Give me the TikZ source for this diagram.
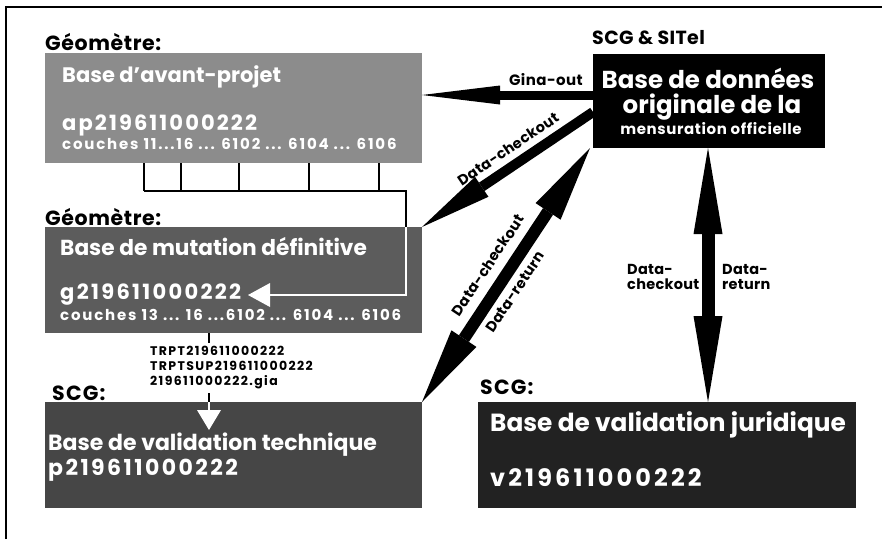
\documentclass[tikz,border=0pt]{standalone}
\usepackage{fontspec}
\setmainfont{Poppins}
\usetikzlibrary{arrows.meta,calc}
\definecolor{gA}{RGB}{140,140,140}
\definecolor{gB}{RGB}{92,92,92}
\definecolor{gC}{RGB}{70,70,70}
\definecolor{gD}{RGB}{34,34,34}
\newcommand{\fs}[1]{\fontsize{#1}{#1}\selectfont\bfseries}
\newcommand{\ls}[1]{\addfontfeature{LetterSpace=#1}}
\begin{document}
\begin{tikzpicture}[x=1pt,y=-1pt,
  box/.style={draw=none, inner sep=0pt, outer sep=0pt, anchor=north west},
  boxtext/.style={anchor=west, inner sep=0pt, text=white},
  title/.style={anchor=west, inner sep=0pt, text=black, font=\fs{20.5}\ls{3}},
  lbl/.style={inner sep=0pt, text=black, font=\fs{14.5}\ls{2}},
  bigarrow/.style={draw=black, line width=#1},
  wire/.style={draw=black, line width=2.4pt},
  whitewire/.style={draw=white, line width=2.4pt}
]
\useasboundingbox (0,0) rectangle (882,539);
\fill[white] (0,0) rectangle (882,539);
% frame
\draw[line width=1.8pt] (6,539) -- (6,7) -- (882,7);

% boxes
\node[box, fill=gA, minimum width=377pt, minimum height=110pt] (b1) at (45,53) {};
\node[box, fill=gB, minimum width=377pt, minimum height=106pt] (b2) at (45,227) {};
\node[box, fill=gC, minimum width=377pt, minimum height=106pt] (b3) at (45,402) {};
\node[box, fill=gD, minimum width=378pt, minimum height=106pt] (b4) at (478,402) {};
\node[box, fill=black, minimum width=232pt, minimum height=94pt] (b5) at (593,54) {};

% titles
\node[title] (l1) at (45,42) {Géomètre:};
\node[title] (l2) at (45,217) {Géomètre:};
\node[title, font=\fs{20.5}\ls{6}] (l3) at (52,393) {SCG:};
\node[title, font=\fs{20.5}\ls{6}] (l4) at (480,387) {SCG:};
\node[title, font=\fs{19}\ls{2}] (l5) at (592,38) {SCG \& SITel};

% box texts
\node[boxtext, font=\fs{21}] (t1a) at (62,77) {Base d'avant-projet};
\node[boxtext, font=\fs{21}\ls{10}] (t1b) at (62,125) {ap219611000222};
\node[boxtext, font=\fs{15}\ls{12}] (t1c) at (62,144) {couches 11...16 ... 6102 ... 6104 ... 6106};
\node[boxtext, font=\fs{21.7}] (t2a) at (60,247) {Base de mutation définitive};
\node[boxtext, font=\fs{21}\ls{11}] (t2b) at (60,295) {g219611000222};
\node[boxtext, font=\fs{15}\ls{12}] (t2c) at (60,315) {couches 13 ... 16 ...6102 ... 6104 ... 6106};
\node[boxtext, font=\fs{22}] (t3a) at (48,445) {Base de validation technique};
\node[boxtext, font=\fs{22}\ls{11}] (t3b) at (48,470) {p219611000222};
\node[boxtext, font=\fs{24.8}] (t4a) at (490,425) {Base de validation juridique};
\node[boxtext, font=\fs{24}\ls{13}] (t4b) at (490,478) {v219611000222};
\node[text=white, inner sep=0pt, font=\fs{24.5}] (t5a) at (708,78) {Base de données};
\node[text=white, inner sep=0pt, font=\fs{24.5}] (t5b) at (712,107) {originale de la};
\node[text=white, inner sep=0pt, font=\fs{15}\ls{4}] (t5c) at (711,129) {mensuration officielle};

% layer wires from box1 to box2
\foreach \xx/\nm in {144/c1,181/c2,239/c3,309/c4,379/c5}{
  \coordinate (\nm top) at (\xx,163);
  \coordinate (\nm bot) at (\xx,191);
  \draw[wire] (\nm top) -- (\nm bot);
}
\coordinate (corner) at (406,191);
\coordinate (entry) at (406,227);
\coordinate (bend) at (406,295);
\coordinate (gtip) at (248,295);
\draw[wire] (c1bot) -- (corner) -- (entry);
\draw[whitewire, -{Triangle[length=22pt,width=24pt,line width=0pt]}] (entry) -- (bend) -- (gtip);

% files list
\coordinate (f1) at (209,333);
\coordinate (f2) at (209,343);
\draw[wire] (f1) -- (f2);
\node[lbl, anchor=north west, font=\fontsize{12.5}{15}\selectfont\bfseries\ls{11}, align=left] (files) at (150,346)
  {TRPT219611000222\\TRPTSUP219611000222\\219611000222.gia};
\coordinate (f3) at (209,393);
\coordinate (f4) at (209,430);
\draw[wire] (f3) -- (b3.north -| f3);
\draw[whitewire, -{Triangle[length=20pt,width=24pt,line width=0pt]}] (b3.north -| f3) -- (f4);

% big arrows
\draw[bigarrow=9pt, -{Triangle[length=78pt,width=19pt,line width=0pt]}] ([yshift=6pt]b5.west) -- ([yshift=13pt]b1.east);
\node[lbl, anchor=east, font=\fs{15}\ls{3}] (gina) at (583,80) {Gina-out};

\draw[bigarrow=10pt, -{Triangle[length=72pt,width=24pt,line width=0pt]}] ([yshift=-11pt]b5.west) -- (b2.north east);
\node[lbl, rotate=33.8] (dc1) at (508,149) {Data-checkout};

\draw[bigarrow=12pt, {Triangle[length=76pt,width=30pt,line width=0pt]}-{Triangle[length=76pt,width=30pt,line width=0pt]}] ([xshift=-3pt]b5.south west) -- (b3.north east);
\node[lbl, rotate=56.3] (dc2) at (488,265) {Data-checkout};
\node[lbl, rotate=56.3] (dr2) at (515,292) {Data-return};

\draw[bigarrow=13pt, {Triangle[length=86pt,width=29pt,line width=0pt]}-{Triangle[length=86pt,width=29pt,line width=0pt]}] ([xshift=-1pt]b5.south) -- ([xshift=-1pt]b5.south |- b4.north);
\node[lbl, anchor=west, align=left] (dc3) at (627,277) {Data-\\checkout};
\node[lbl, anchor=west, align=left] (dr3) at (722,277) {Data-\\return};
\end{tikzpicture}
\end{document}
